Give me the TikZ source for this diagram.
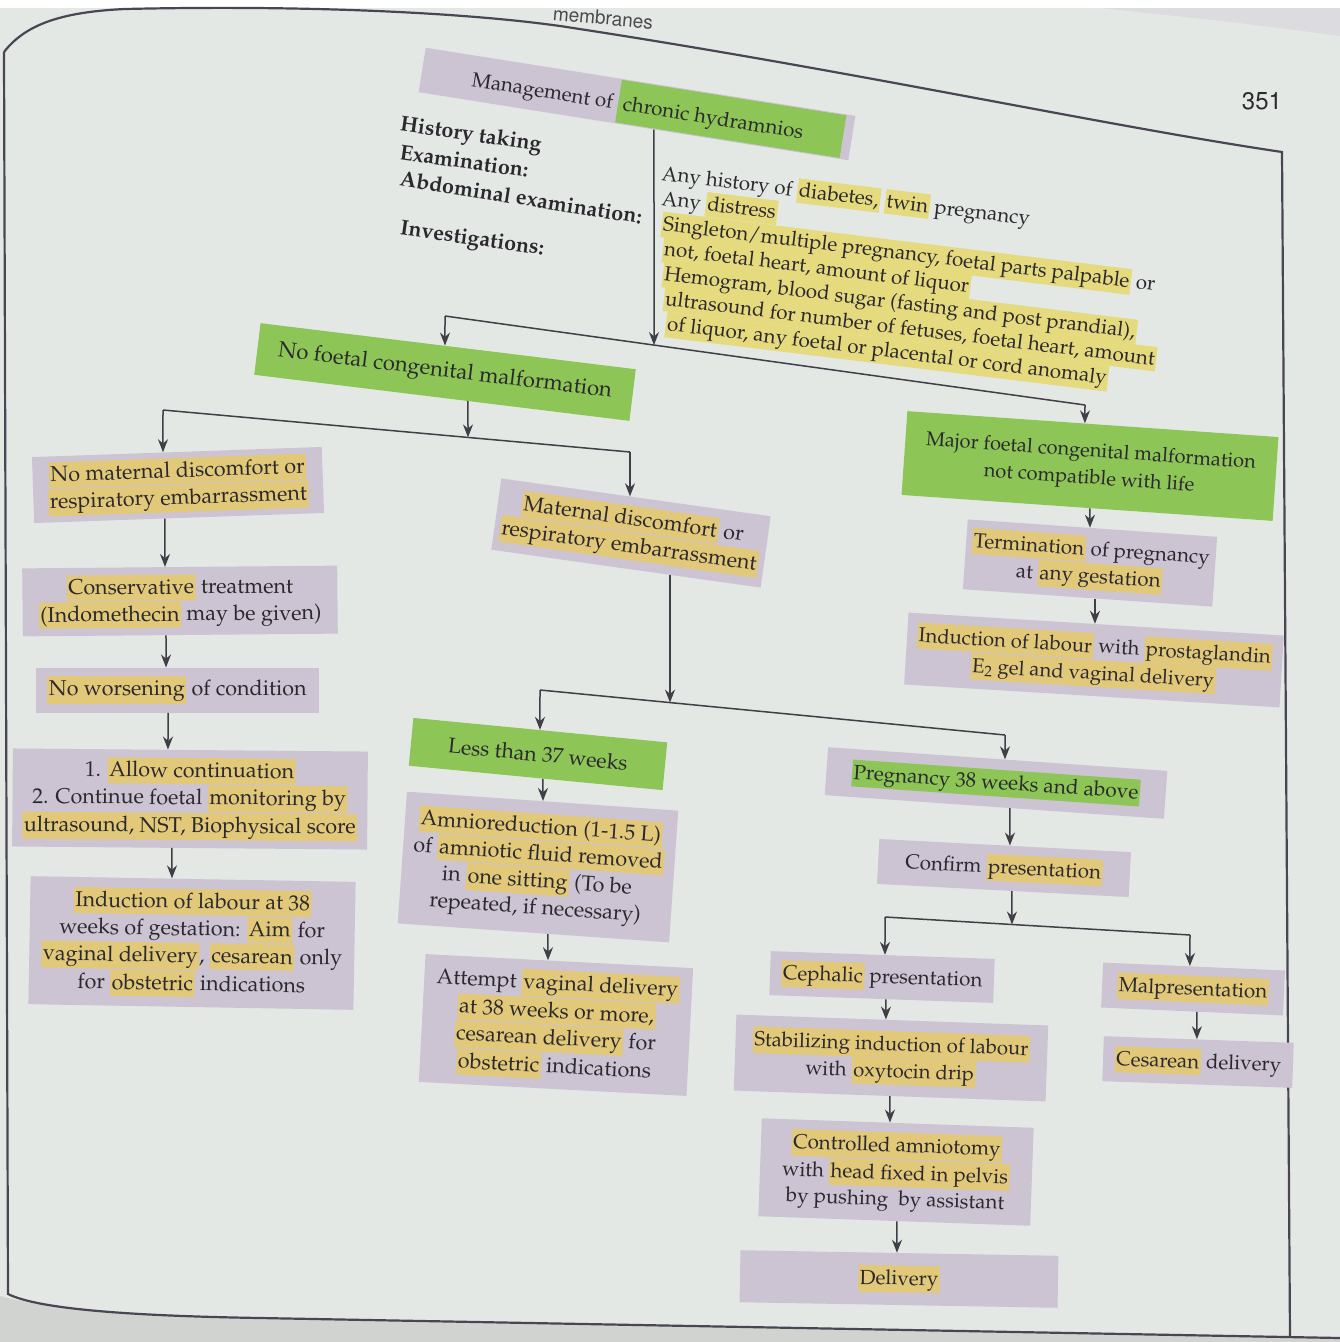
\documentclass[tikz,border=0pt]{standalone}
\usepackage[T1]{fontenc}
\usepackage{mathpazo}
\usetikzlibrary{arrows.meta,calc}
\definecolor{pagebg}{HTML}{E4E8E5}
\definecolor{lav}{HTML}{CCC3D3}
\definecolor{hly}{HTML}{E2C97A}
\definecolor{hlp}{HTML}{E6DA7E}
\definecolor{grn}{HTML}{8DC657}
\definecolor{ink}{HTML}{2B292E}
\definecolor{lin}{HTML}{403E46}
\definecolor{frm}{HTML}{4A4552}
\newcommand{\hy}[1]{{\setlength{\fboxsep}{1.5pt}\colorbox{hly}{\rule[-5pt]{0pt}{23pt}#1}}}
\newcommand{\hp}[1]{{\setlength{\fboxsep}{1.5pt}\colorbox{hlp}{\rule[-4.5pt]{0pt}{21.5pt}#1}}}
\newcommand{\hg}[1]{{\setlength{\fboxsep}{1.5pt}\colorbox{grn}{\rule[-5pt]{0pt}{23pt}#1}}}
\newcommand{\hgt}[1]{{\setlength{\fboxsep}{0pt}\colorbox{grn}{\rule[-13pt]{0pt}{43pt}#1}}}
\newcommand{\vconn}[3]{\draw[arr] (intersection of #1.south west--#1.south east and #3,0--#3,1) -- (intersection of #2.north west--#2.north east and #3,0--#3,1);}
\newcommand{\fromnode}[3]{\draw[arr] (intersection of #1.south west--#1.south east and #3,0--#3,1) -- (#2);}
\newcommand{\tonode}[3]{\draw[arr] (#1) -- (intersection of #2.north west--#2.north east and #3,0--#3,1);}
\tikzset{
  box/.style={fill=lav, text=ink, align=center, inner sep=1pt, font=\fontsize{21.5}{27}\selectfont},
  gbox/.style={box, fill=grn},
  arr/.style={draw=lin, line width=1.5pt, -{Stealth[length=13pt,width=10pt]}},
  ln/.style={draw=lin, line width=1.5pt},
  lbl/.style={text=ink, anchor=west, inner sep=0pt, font=\fontsize{21.5}{25}\selectfont\bfseries},
  infol/.style={text=ink, anchor=base west, inner sep=0pt, rotate=-7, font=\fontsize{20.5}{25}\selectfont},
  frame/.style={draw=frm, line width=2.2pt},
}
\begin{document}
\begin{tikzpicture}[x=1pt,y=-1pt]
\useasboundingbox (0,0) rectangle (1340,1342);
% page
\fill[pagebg] (0,0) rectangle (1340,1342);
\fill[white] (0,0) rectangle (1340,8);
\fill[lav!35!pagebg] (1100,8) -- (1340,8) -- (1340,36) .. controls (1250,24) .. (1100,8) -- cycle;
\fill[black!9!pagebg] (0,1296) .. controls (60,1312) and (150,1316) .. (260,1318) -- (1340,1338) -- (1340,1342) -- (0,1342) -- cycle;
\draw[frame] (4,52) .. controls (25,25) and (60,12) .. (125,9) .. controls (300,5) and (460,12) .. (560,26) .. controls (850,70) and (1100,125) .. (1282,152) -- (1290,1337);
\draw[frame] (4,52) -- (8,1294) .. controls (40,1310) and (140,1316) .. (260,1318) -- (1340,1338);
\node[font=\fontfamily{phv}\fontsize{19}{19}\selectfont, text=ink!85, rotate=-5] (hdr) at (603,18) {membranes};
\node[font=\fontfamily{phv}\fontsize{24}{24}\selectfont, text=ink] (pg) at (1262,101) {351};

% title and header block
\node[box, rotate=-9, minimum width=435pt, minimum height=45pt, inner sep=0pt, font=\fontsize{20.5}{26}\selectfont] (title) at (637,104) {\hspace*{42pt}Management of \hgt{ chronic hydramnios\hspace{40pt}}};
\node[lbl, rotate=-8] (lh) at (400,126) {History taking};
\node[lbl, rotate=-8] (le) at (400,152) {Examination:};
\node[lbl, rotate=-9] (la) at (400,178) {Abdominal examination:};
\node[lbl, rotate=-8] (li) at (400,230) {Investigations:};
\node[infol] (i1) at (661,180) {Any history of \hp{diabetes,} \hp{twin} pregnancy};
\node[infol] (i2) at (661,205) {Any \hp{distress}};
\node[infol] (i3) at (661,230) {\hp{Singleton/multiple pregnancy, foetal parts palpable} or};
\node[infol] (i4) at (662,255) {\hp{not, foetal heart, amount of liquor}};
\node[infol] (i5) at (662,280) {\hp{Hemogram, blood sugar (fasting and post prandial),}};
\node[infol] (i6) at (663,305) {\hp{ultrasound for number of fetuses, foetal heart, amount}};
\node[infol] (i7) at (665,330) {\hp{of liquor, any foetal or placental or cord anomaly}};

% level 1
\node[gbox, rotate=-7, minimum width=378pt, minimum height=52pt, font=\fontsize{22}{27}\selectfont] (nf) at (445,372) {No foetal congenital malformation};
\node[gbox, rotate=-4, minimum width=372pt, minimum height=84pt, font=\fontsize{20}{27}\selectfont] (major) at (1090,466) {Major foetal congenital malformation\\ not compatible with life};
\node[box, rotate=-4, minimum width=250pt, minimum height=70pt, font=\fontsize{20.5}{27}\selectfont] (term) at (1090,563) {\hy{Termination} of pregnancy\\ at \hy{any gestation}};
\node[box, rotate=-3.5, minimum width=376pt, minimum height=72pt, font=\fontsize{20.2}{27}\selectfont] (induc) at (1094,660) {\hy{Induction of labour} with \hy{prostaglandin}\\ \hy{E$_2$ gel and vaginal delivery}};

% left column
\node[box, rotate=2, minimum width=290pt, minimum height=66pt] (nm) at (178,485) {\hy{No maternal discomfort or}\\ \hy{respiratory embarrassment}};
\node[box, rotate=0.5, minimum width=315pt, minimum height=68pt] (cons) at (180,601) {\hy{Conservative} treatment\\ \hy{(Indomethecin} may be given)};
\node[box, minimum width=283pt, minimum height=45pt] (nw) at (177,690) {\hy{No worsening} of condition};
\node[box, rotate=-0.5, minimum width=355pt, minimum height=98pt] (allow) at (190,799) {1. \hy{Allow continuation}\\ 2. Continue foetal \hy{monitoring by}\\ \hy{ultrasound, NST, Biophysical score}};
\node[box, rotate=-1, minimum width=325pt, minimum height=128pt] (i38) at (192,943) {\hy{Induction of labour at 38}\\ weeks of gestation: \hy{Aim} for\\ \hy{vaginal delivery}, \hy{cesarean} only\\ for \hy{obstetric} indications};

% middle column
\node[box, rotate=-8, minimum width=272pt, minimum height=72pt] (md) at (631,533) {\hy{Maternal discomfort} or\\ \hy{respiratory embarrassment}};
\node[gbox, rotate=-5.5, minimum width=255pt, minimum height=48pt, font=\fontsize{21.3}{27}\selectfont] (l37) at (538,754) {Less than 37 weeks};
\node[box, rotate=-4, minimum width=272pt, minimum height=132pt] (amnio) at (538,867) {\hy{Amnioreduction (1-1.5 L)}\\ of \hy{amniotic fluid removed}\\ in \hy{one sitting} (To be\\ repeated, if necessary)};
\node[box, rotate=-3, minimum width=268pt, minimum height=128pt] (att) at (556,1025) {Attempt \hy{vaginal delivery}\\ \hy{at 38 weeks or more,}\\ \hy{cesarean delivery} for\\ \hy{obstetric} indications};

% right column
\node[box, rotate=-4, minimum width=340pt, minimum height=48pt, font=\fontsize{20.7}{27}\selectfont] (p38) at (996,783) {\hg{Pregnancy 38 weeks and above}};
\node[box, rotate=-3, minimum width=252pt, minimum height=45pt, font=\fontsize{20.5}{27}\selectfont] (conf) at (1004,868) {Confirm \hy{presentation}};
\node[box, rotate=-2, minimum width=224pt, minimum height=44pt, font=\fontsize{20.5}{27}\selectfont] (ceph) at (882,977) {\hy{Cephalic} presentation};
\node[box, rotate=-2.5, minimum width=182pt, minimum height=45pt, font=\fontsize{20.5}{27}\selectfont] (malp) at (1193,989) {\hy{Malpresentation}};
\node[box, rotate=-2, minimum width=190pt, minimum height=45pt, font=\fontsize{20.5}{27}\selectfont] (ces) at (1198,1062) {\hy{Cesarean} delivery};
\node[box, rotate=-2, minimum width=312pt, minimum height=76pt, font=\fontsize{20.3}{27}\selectfont] (stab) at (891,1058) {\hy{Stabilizing induction of labour}\\ with \hy{oxytocin drip}};
\node[box, rotate=-2, minimum width=272pt, minimum height=98pt, font=\fontsize{20.5}{26}\selectfont] (ctrl) at (896,1172) {\hy{Controlled amniotomy}\\ with \hy{head fixed in pelvis}\\ by pushing\ \ by assistant};
\node[box, rotate=-1, minimum width=318pt, minimum height=52pt, font=\fontsize{20.5}{27}\selectfont] (del) at (899,1279) {\hy{Delivery}};

% branch points
\coordinate (b1L) at (445,316);
\coordinate (b1R) at (1085,405);
\coordinate (b1m) at (654,345.1);
\coordinate (b2L) at (163,410);
\coordinate (b2R) at (630,452);
\coordinate (b2m) at (468,437.4);
\coordinate (b3L) at (540,690);
\coordinate (b3R) at (1005,735);
\coordinate (b3m) at (670,702.6);
\coordinate (b4L) at (885,917);
\coordinate (b4R) at (1190,935);
\coordinate (b4m) at (1012,924.5);

% connectors
\fromnode{title}{b1m}{654}
\draw[ln] (b1L) -- (b1R);
\tonode{b1L}{nf}{445}
\tonode{b1R}{major}{1085}

\fromnode{nf}{b2m}{468}
\draw[ln] (b2L) -- (b2R);
\tonode{b2L}{nm}{163}
\tonode{b2R}{md}{630}

\fromnode{md}{b3m}{670}
\draw[ln] (b3L) -- (b3R);
\tonode{b3L}{l37}{540}
\tonode{b3R}{p38}{1005}

\fromnode{conf}{b4m}{1012}
\draw[ln] (b4L) -- (b4R);
\tonode{b4L}{ceph}{885}
\tonode{b4R}{malp}{1190}

\vconn{major}{term}{1090}
\vconn{term}{induc}{1095}
\vconn{nm}{cons}{165}
\vconn{cons}{nw}{166}
\vconn{nw}{allow}{168}
\vconn{allow}{i38}{172}
\vconn{l37}{amnio}{543}
\vconn{amnio}{att}{548}
\vconn{p38}{conf}{1010}
\vconn{ceph}{stab}{886}
\vconn{malp}{ces}{1197}
\vconn{stab}{ctrl}{890}
\vconn{ctrl}{del}{897}
\end{tikzpicture}
\end{document}
